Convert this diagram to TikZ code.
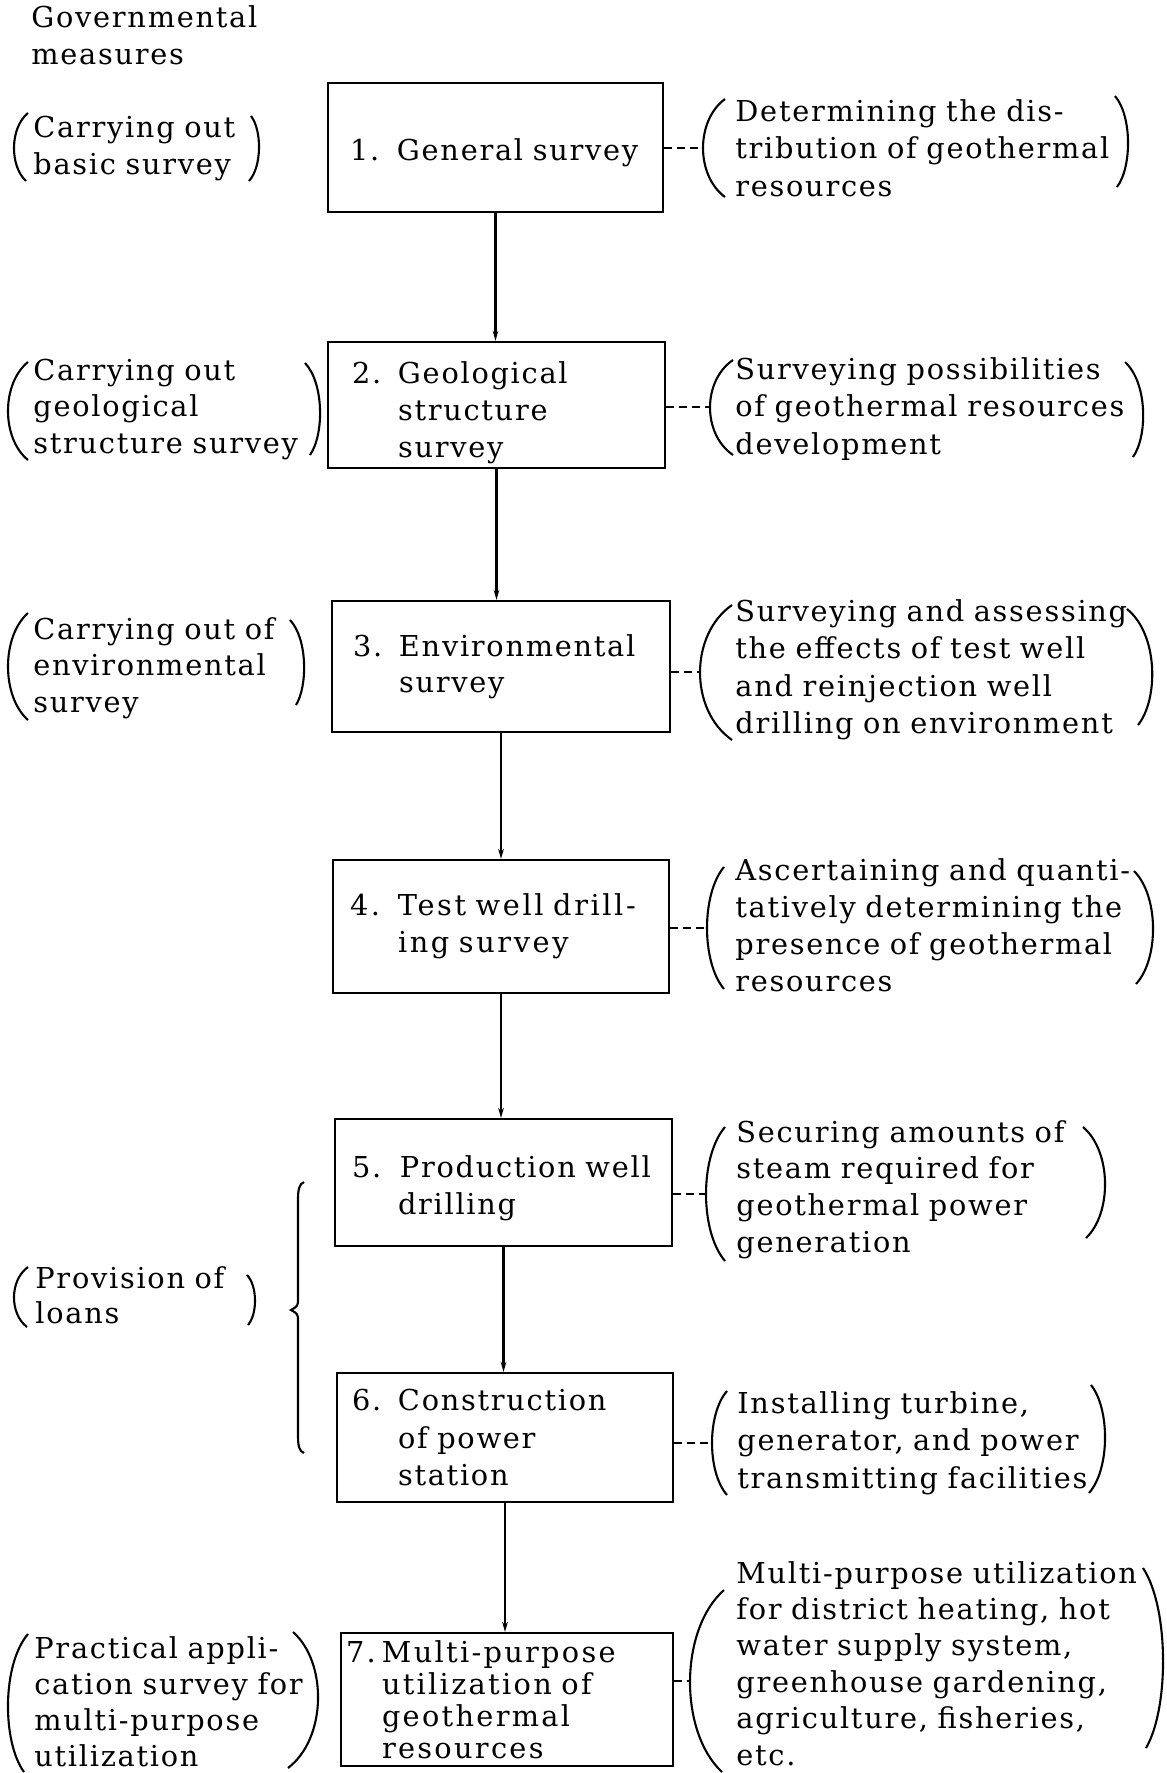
\documentclass[tikz,border=0pt]{standalone}
\usepackage{fontspec}
\setmainfont{DejaVu Serif}[LetterSpace=6]
\usetikzlibrary{arrows.meta,calc}
\newcommand\tf[1]{\fontsize{14.4pt}{#1pt}\selectfont\lineskiplimit=-20pt\relax}
\newcommand\bparen[5]{%
  \pgfmathsetmacro\pcx{(#5-(#1+#3)/8)/0.75}%
  \pgfmathsetmacro\pya{#2+(#4-#2)*0.22}%
  \pgfmathsetmacro\pyb{#2+(#4-#2)*0.78}%
  \draw[parenline] (#1,#2) .. controls (\pcx,\pya) and (\pcx,\pyb) .. (#3,#4);}
\begin{document}
\begin{tikzpicture}[x=0.5pt,y=-0.5pt,
  boxnode/.style={draw, line width=1.1pt, rectangle, align=left, inner ysep=0pt},
  grp/.style={anchor=base west, inner sep=0pt, align=left, text width=260pt},
  conn/.style={line width=1.1pt, -{Stealth[length=5pt,width=2.8pt]}},
  dashconn/.style={line width=0.9pt, dash pattern=on 4pt off 2.5pt},
  parenline/.style={line width=1.05pt},
]
\fill[white] (0,0) rectangle (1167,1773);
\useasboundingbox (0,0) rectangle (1167,1773);

% ---- header
\node[grp, font=\tf{18.5}] (hdr) at (31,27) {Governmental\\measures};

% ---- main boxes
\node[boxnode, font=\tf{19}, minimum width=167.5pt, minimum height=64.5pt, inner xsep=11pt, text width=145.5pt, text height=16.5pt] (b1) at (495.5,147.5)
  {\makebox[23.5pt][l]{1.}General~survey};
\node[boxnode, font=\tf{18.5}, minimum width=168.5pt, minimum height=63pt, inner xsep=12pt, text width=144.5pt, text height=18.5pt] (b2) at (496.5,405)
  {\makebox[23pt][l]{2.}Geological\\\hspace*{23pt}structure\\\hspace*{23pt}survey};
\node[boxnode, font=\tf{18}, minimum width=169pt, minimum height=65.5pt, inner xsep=10.5pt, text width=148pt] (b3) at (501,666.5)
  {\makebox[23pt][l]{3.}Environmental\\\hspace*{23pt}survey};
\node[boxnode, font=\tf{18.5}\addfontfeature{LetterSpace=9}, minimum width=168pt, minimum height=66.5pt, inner xsep=8.5pt, text width=151pt] (b4) at (501,926.5)
  {\makebox[24pt][l]{4.}Test~well~drill-\\\hspace*{24pt}ing~survey};
\node[boxnode, font=\tf{18.5}, minimum width=168.5pt, minimum height=63.5pt, inner xsep=8.5pt, text width=151.5pt, text height=16.5pt] (b5) at (503.5,1182.5)
  {\makebox[24pt][l]{5.}Production~well\\\hspace*{23pt}drilling};
\node[boxnode, font=\tf{18.75}, minimum width=168pt, minimum height=64.5pt, inner xsep=7.5pt, text width=153pt] (b6) at (505,1437.5)
  {\makebox[23pt][l]{6.}Construction\\\hspace*{23pt}of~power\\\hspace*{23pt}station};
\node[boxnode, font=\tf{16}\addfontfeature{LetterSpace=8}, minimum width=166pt, minimum height=66.5pt, inner xsep=2.5pt, text width=161pt] (b7) at (507,1699.5)
  {\makebox[18pt][l]{7.}Multi-purpose\\\hspace*{18pt}utilization~of\\\hspace*{18pt}geothermal\\\hspace*{18pt}resources};

% ---- flow connectors
\draw[conn] (b1.south) -- (b1.south |- b2.north);
\draw[conn] (b2.south) -- (b2.south |- b3.north);
\draw[conn] (b3.south) -- (b3.south |- b4.north);
\draw[conn] (b4.south) -- (b4.south |- b5.north);
\draw[conn] (b5.south) -- (b5.south |- b6.north);
\draw[conn] (b6.south) -- (b6.south |- b7.north);

% ---- left (governmental measures)
\node[grp, font=\tf{18.5}] (l1) at (33,137) {Carrying out\\basic survey};
\bparen{28}{113}{26}{181}{14}
\bparen{251}{116}{249}{181}{259}

\node[grp, font=\tf{18.4}] (l2) at (33,380) {Carrying out\\geological\\structure survey};
\bparen{28}{362}{28}{460}{8}
\bparen{305}{363}{310}{455}{320}

\node[grp, font=\tf{18.4}] (l3) at (33,639) {Carrying out of\\environmental\\survey};
\bparen{28}{613}{28}{720}{8}
\bparen{290}{620}{296}{705}{304}

\node[grp, font=\tf{17.5}] (l5) at (35,1288) {Provision of\\loans};
\bparen{28}{1267}{27}{1327}{14}
\bparen{247}{1275}{248}{1325}{255}

\node[grp, font=\tf{18}] (l7) at (34,1658) {Practical appli-\\cation survey for\\multi-purpose\\utilization};
\bparen{28}{1634}{24}{1772}{8}
\bparen{293}{1632}{288}{1768}{318}

% ---- brace for loans
\draw[parenline] (304,1182) .. controls (299,1184) and (298,1190) .. (298,1200) -- (298,1298)
  .. controls (298,1306) .. (291,1310) .. controls (298,1314) .. (298,1322) -- (298,1435)
  .. controls (298,1446) and (299,1451) .. (304,1453);

% ---- right (purposes)
\node[grp, font=\tf{18.75}] (r1) at (735,121) {Determining the dis-\\tribution of geothermal\\resources};
\bparen{725}{99}{725}{197}{703}
\bparen{1115}{96}{1117}{187}{1128}
\coordinate (r1p) at (703,148);
\draw[dashconn] (b1.east |- r1p) -- (r1p);

\node[grp, font=\tf{18.75}] (r2) at (735,379) {Surveying possibilities\\of geothermal resources\\development};
\bparen{733}{360}{733}{455}{710}
\bparen{1125}{362}{1133}{457}{1143}
\coordinate (r2p) at (710,407);
\draw[dashconn] (b2.east |- r2p) -- (r2p);

\node[grp, font=\tf{18.75}] (r3) at (735,621) {Surveying and assessing\\the effects of test well\\and reinjection well\\drilling on environment};
\bparen{732}{605}{732}{740}{700}
\bparen{1127}{609}{1138}{725}{1152}
\coordinate (r3p) at (700,672);
\draw[dashconn] (b3.east |- r3p) -- (r3p);

\node[grp, font=\tf{18.5}] (r4) at (735,880) {Ascertaining and quanti-\\tatively determining the\\presence of geothermal\\resources};
\bparen{724}{867}{724}{989}{707}
\bparen{1134}{871}{1136}{984}{1153}
\coordinate (r4p) at (707,928);
\draw[dashconn] (b4.east |- r4p) -- (r4p);

\node[grp, font=\tf{18.35}] (r5) at (736,1142) {Securing amounts of\\steam required for\\geothermal power\\generation};
\bparen{725}{1127}{725}{1261}{706}
\bparen{1083}{1127}{1086}{1238}{1105}
\coordinate (r5p) at (706,1194);
\draw[dashconn] (b5.east |- r5p) -- (r5p);

\node[grp, font=\tf{18.75}] (r6) at (737,1413) {Installing turbine,\\generator, and power\\transmitting facilities};
\bparen{727}{1391}{727}{1495}{712}
\bparen{1091}{1385}{1089}{1493}{1105}
\coordinate (r6p) at (712,1443);
\draw[dashconn] (b6.east |- r6p) -- (r6p);

\node[grp, font=\tf{18.2}] (r7) at (736,1583) {Multi-purpose utilization\\for district heating, hot\\water supply system,\\greenhouse gardening,\\agriculture, fisheries,\\etc.};
\bparen{724}{1590}{722}{1772}{690}
\bparen{1143}{1568}{1146}{1748}{1163}
\coordinate (r7p) at (690,1681);
\draw[dashconn] (b7.east |- r7p) -- (r7p);
\end{tikzpicture}
\end{document}
